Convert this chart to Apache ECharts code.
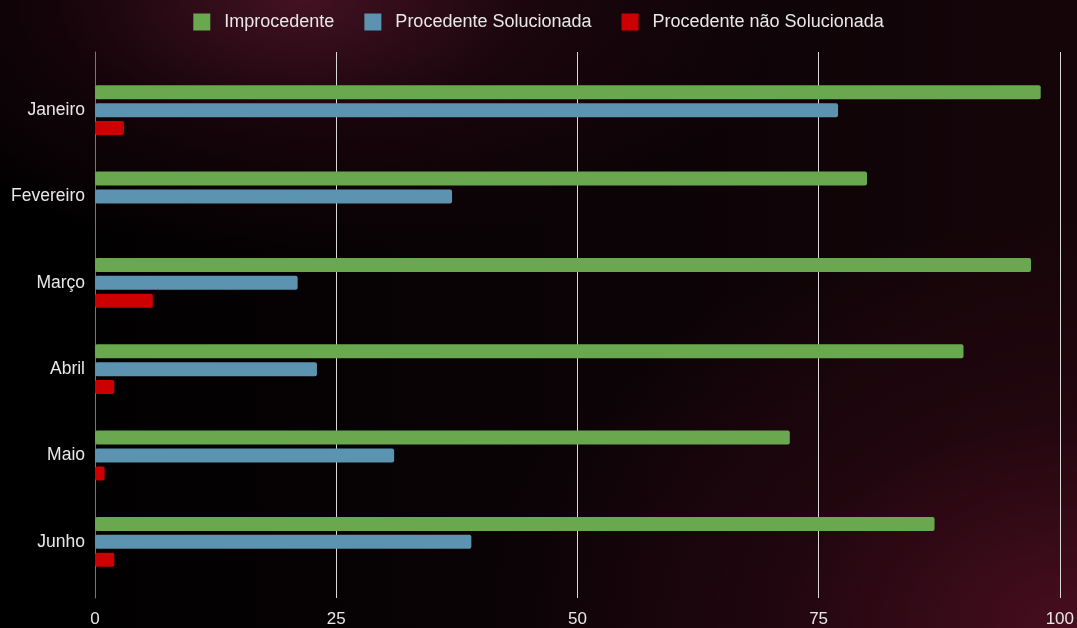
<!DOCTYPE html>
<html><head><meta charset="utf-8">
<script src="https://cdn.jsdelivr.net/npm/echarts@6/dist/echarts.min.js"></script>
<style>
html,body{margin:0;padding:0;width:1077px;height:628px;overflow:hidden;}
body{background:
 radial-gradient(ellipse 45% 40% at 28% 0%, rgba(70,18,36,0.95) 0%, rgba(40,8,18,0.5) 50%, rgba(0,0,0,0) 100%),
 radial-gradient(ellipse 55% 65% at 100% 100%, rgba(72,14,32,1) 0%, rgba(45,8,20,0.6) 50%, rgba(0,0,0,0) 100%),
 linear-gradient(90deg,#000000 0%, #0a0306 50%, #150509 100%);}
#c{width:1077px;height:628px;}
</style></head>
<body><div id="c"></div>
<script>
const categories = ['Janeiro','Fevereiro','Março','Abril','Maio','Junho'];
const improcedente = [98, 80, 97, 90, 72, 87];
const procedenteSolucionada = [77, 37, 21, 23, 31, 39];
const procedenteNaoSolucionada = [3, 0, 6, 2, 1, 2];
const xTicks = [0, 25, 50, 75, 100];

const chart = echarts.init(document.getElementById('c'), null, {renderer:'canvas'});
const font = '"Liberation Sans", Arial, sans-serif';
const mk = (name, data, color) => ({
  name, type:'bar', data, xAxisIndex:0, yAxisIndex:0,
  barWidth:14, barGap:'28%',
  itemStyle:{color, borderRadius:2}
});
chart.setOption({
  backgroundColor:'transparent',
  animation:false,
  textStyle:{fontFamily:font},
  legend:{
    top:8, left:'center', itemWidth:17, itemHeight:17, itemGap:30,
    textStyle:{color:'#e8e8e8', fontSize:18, fontFamily:font, padding:[0,0,0,9]},
    icon:'rect',
    data:['Improcedente','Procedente Solucionada','Procedente não Solucionada']
  },
  grid:[
    {left:95, right:17, top:67, bottom:43, containLabel:false},
    {left:95, right:17, top:52, bottom:28, containLabel:false}
  ],
  xAxis:[
    {type:'value', gridIndex:0, min:0, max:100, interval:25,
     axisLabel:{show:false}, splitLine:{show:false}, axisLine:{show:false}, axisTick:{show:false}},
    {type:'value', gridIndex:1, min:xTicks[0], max:xTicks[xTicks.length-1], interval:25,
     axisLabel:{color:'#e8e8e8', fontSize:17, fontFamily:font, margin:13,
       formatter:v=>xTicks.includes(v)?String(v):''},
     splitLine:{show:true, lineStyle:{color:'#d8d8d8', width:1}},
     axisLine:{show:false}, axisTick:{show:false}}
  ],
  yAxis:[
    {type:'category', gridIndex:0, data:categories, inverse:true,
     axisLabel:{color:'#e8e8e8', fontSize:17.5, fontFamily:font, margin:10},
     axisLine:{show:false}, axisTick:{show:false}, splitLine:{show:false}},
    {type:'value', gridIndex:1, min:0, max:1, show:true,
     axisLabel:{show:false}, axisTick:{show:false}, splitLine:{show:false},
     axisLine:{show:true, onZero:false, lineStyle:{color:'#777777', width:1}}}
  ],
  series:[
    mk('Improcedente', improcedente, '#6aa84f'),
    mk('Procedente Solucionada', procedenteSolucionada, '#5b93b0'),
    mk('Procedente não Solucionada', procedenteNaoSolucionada, '#cc0000')
  ]
});
</script>
</body></html>
